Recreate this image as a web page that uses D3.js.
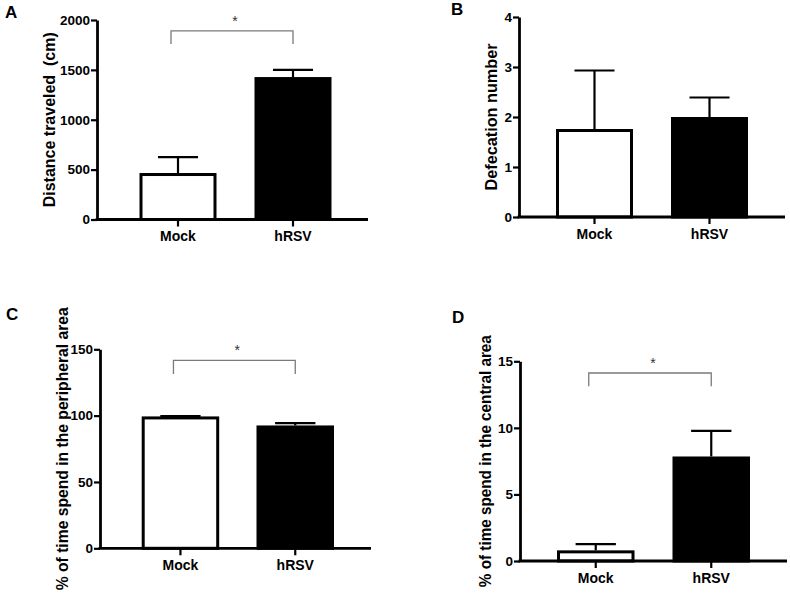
<!DOCTYPE html>
<html>
<head>
<meta charset="utf-8">
<script src="https://cdn.jsdelivr.net/npm/d3@7"></script>
<style>
  html, body { margin: 0; padding: 0; background: #fff; }
  svg { display: block; font-family: "Liberation Sans", Arial, sans-serif; }
  .ytitle { white-space: pre; }
</style>
</head>
<body>
<svg id="chart" width="790" height="596"></svg>
<script>
// ---- Data ----
const categories = ["Mock", "hRSV"];

const distanceMean = [466, 1428];
const distanceSEM  = [160, 72];
const distanceTicks = [0, 500, 1000, 1500, 2000];

const defecationMean = [1.76, 2.0];
const defecationSEM  = [1.17, 0.39];
const defecationTicks = [0, 1, 2, 3, 4];

const peripheralMean = [99.4, 92.6];
const peripheralSEM  = [0.3, 1.8];
const peripheralTicks = [0, 50, 100, 150];

const centralMean = [0.8, 7.85];
const centralSEM  = [0.47, 1.93];
const centralTicks = [0, 5, 10, 15];

// significance brackets (value at bracket line, value at bracket feet); null = none
const sigLevels = [[1890, 1760], null, [141.7, 131.3], [14.12, 13.12]];

// ---- Layout ----
const panels = [
  { letter: "A", lx: 5, ly: 18, axisX: 97, y0: 219.5, yTop: 20, xEnd: 368, barStart: 139.5, barEnd: 331.5, bw: 77,
    means: distanceMean, sems: distanceSEM, ticks: distanceTicks, title: "Distance traveled  (cm)", titleX: 49, titleLen: 175, sig: sigLevels[0] },
  { letter: "B", lx: 451, ly: 15, axisX: 519, y0: 217, yTop: 17, xEnd: 785, barStart: 556, barEnd: 748, bw: 77,
    means: defecationMean, sems: defecationSEM, ticks: defecationTicks, title: "Defecation number", titleX: 491, titleLen: 147, sig: sigLevels[1] },
  { letter: "C", lx: 6, ly: 320, axisX: 100, y0: 548.3, yTop: 349.3, xEnd: 371, barStart: 141.7, barEnd: 334, bw: 77.5,
    means: peripheralMean, sems: peripheralSEM, ticks: peripheralTicks, title: "% of time spend in the peripheral area", titleX: 62, titleLen: 283, sig: sigLevels[2] },
  { letter: "D", lx: 452, ly: 323, axisX: 520, y0: 561, yTop: 361.3, xEnd: 787, barStart: 557, barEnd: 750, bw: 77.5,
    means: centralMean, sems: centralSEM, ticks: centralTicks, title: "% of time spend in the central area", titleX: 485, titleLen: 252, sig: sigLevels[3] }
];

const svg = d3.select("#chart");
const fills = ["#ffffff", "#000000"];

panels.forEach(p => {
  const g = svg.append("g");
  const maxT = d3.max(p.ticks);
  const y = d3.scaleLinear().domain([0, maxT]).range([p.y0, p.yTop]);
  const span = p.barEnd - p.barStart;
  const padIn = 1 - p.bw / (span - p.bw);
  const x = d3.scaleBand().domain(categories).range([p.barStart, p.barEnd]).paddingInner(padIn).paddingOuter(0);
  const bw = x.bandwidth();
  const sw = 3;

  // bars
  g.selectAll("rect.bar").data(categories).join("rect")
    .attr("x", d => x(d) + sw / 2)
    .attr("width", bw - sw)
    .attr("y", (d, i) => y(p.means[i]) + sw / 2)
    .attr("height", (d, i) => Math.max(0, p.y0 - y(p.means[i]) - sw / 2))
    .attr("fill", (d, i) => fills[i])
    .attr("stroke", "#000")
    .attr("stroke-width", sw);

  // error bars (upper)
  categories.forEach((c, i) => {
    const cx = x(c) + bw / 2;
    const yt = y(p.means[i] + p.sems[i]);
    const yb = y(p.means[i]);
    g.append("line").attr("x1", cx).attr("x2", cx).attr("y1", yb).attr("y2", yt)
      .attr("stroke", "#000").attr("stroke-width", 2.2);
    g.append("line").attr("x1", cx - bw * 0.26).attr("x2", cx + bw * 0.26).attr("y1", yt).attr("y2", yt)
      .attr("stroke", "#000").attr("stroke-width", 2.2);
  });

  // y axis
  const ya = g.append("g").attr("transform", `translate(${p.axisX},0)`)
    .call(d3.axisLeft(y).tickValues(p.ticks).tickSize(6).tickSizeOuter(0).tickPadding(1).tickFormat(d3.format("d")));
  ya.attr("font-size", null).attr("font-family", null);
  ya.select(".domain").attr("stroke-width", 2.8);
  ya.selectAll(".tick line").attr("stroke-width", 2.2);
  ya.selectAll(".tick text").attr("font-size", 13.5).attr("font-weight", "bold").attr("fill", "#000");

  // x axis
  g.append("line").attr("x1", p.axisX - 1.4).attr("x2", p.xEnd).attr("y1", p.y0).attr("y2", p.y0)
    .attr("stroke", "#000").attr("stroke-width", 2.8);
  const xa = g.append("g").attr("transform", `translate(0,${p.y0})`)
    .call(d3.axisBottom(x).tickSize(7).tickPadding(5));
  xa.attr("font-size", null).attr("font-family", null);
  xa.select(".domain").remove();
  xa.selectAll(".tick line").attr("stroke-width", 2.2);
  xa.selectAll(".tick text").attr("font-size", 14).attr("font-weight", "bold").attr("fill", "#000");

  // y title
  g.append("text").attr("class", "ytitle")
    .attr("transform", `translate(${p.titleX},${(p.y0 + p.yTop) / 2}) rotate(-90)`)
    .attr("text-anchor", "middle").attr("dominant-baseline", "central")
    .attr("font-size", 17).attr("font-weight", "bold")
    .attr("textLength", p.titleLen).attr("lengthAdjust", "spacingAndGlyphs")
    .text(p.title);

  // panel letter
  g.append("text").attr("x", p.lx).attr("y", p.ly)
    .attr("font-size", 17).attr("font-weight", "bold").text(p.letter);

  // significance bracket
  if (p.sig) {
    const xl = x("Mock") + bw / 2 - 7;
    const xr = x("hRSV") + bw / 2;
    const yl = y(p.sig[0]), yf = y(p.sig[1]);
    g.append("path")
      .attr("d", `M${xl},${yf}V${yl}H${xr}V${yf}`)
      .attr("fill", "none").attr("stroke", "#7a7a7a").attr("stroke-width", 1.3);
    g.append("text").attr("x", (xl + xr) / 2 + 3).attr("y", yl - 5)
      .attr("text-anchor", "middle").attr("font-size", 14).attr("fill", "#333").text("*");
  }
});
</script>
</body>
</html>
